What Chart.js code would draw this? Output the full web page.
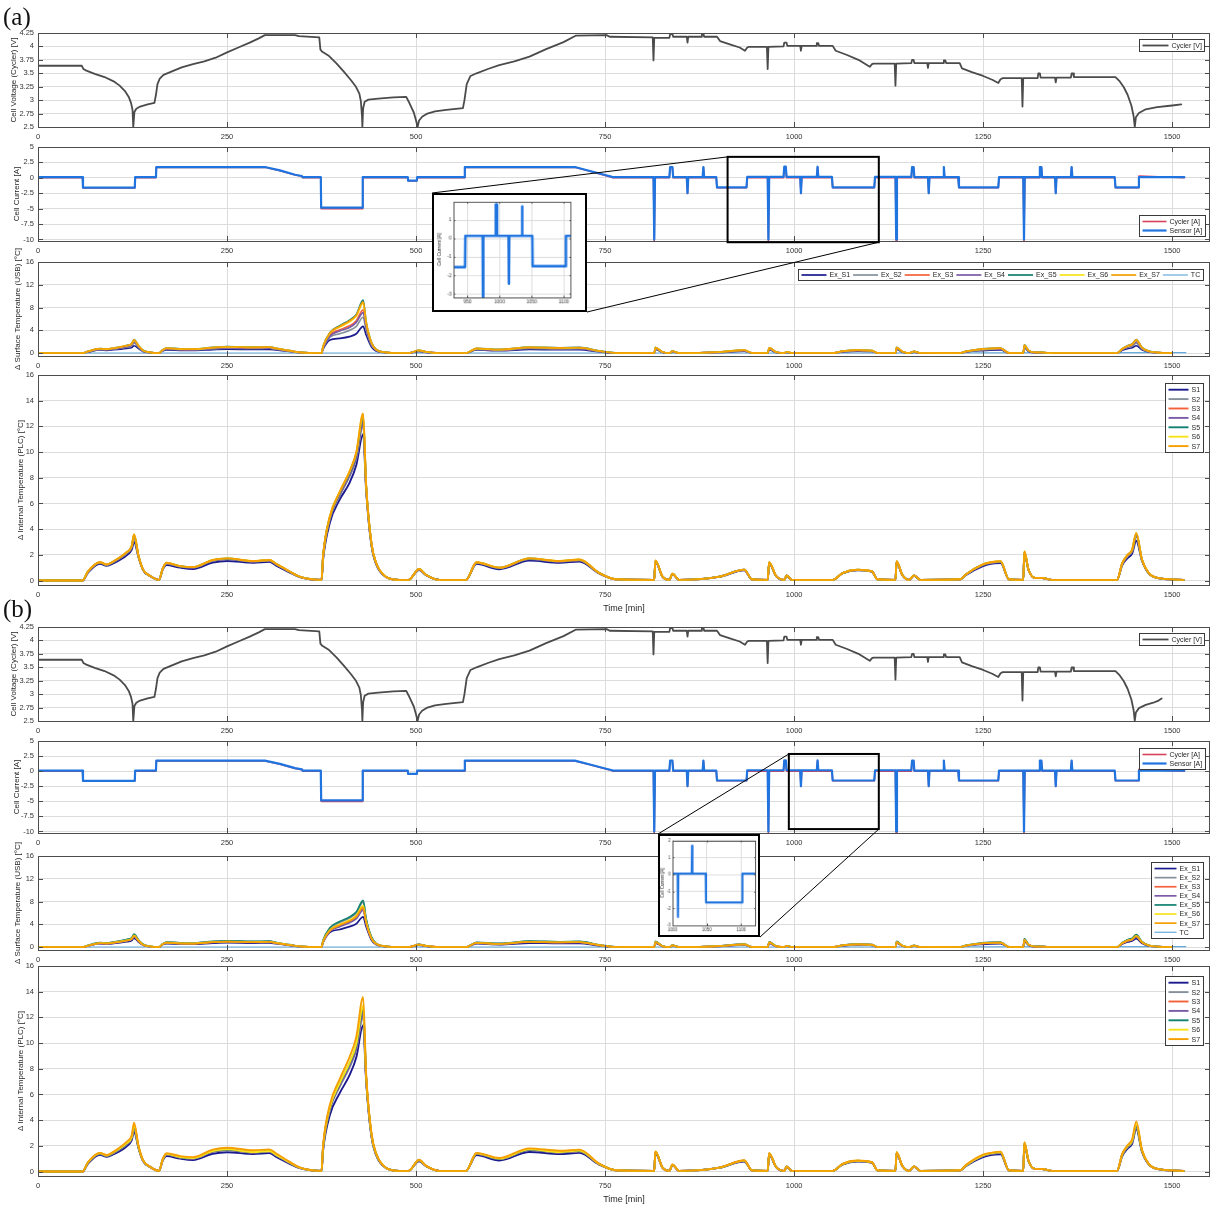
<!DOCTYPE html>
<html lang="en">
<head>
<meta charset="utf-8">
<title>Cell cycling test: voltage, current and temperatures</title>
<script src="https://cdn.jsdelivr.net/npm/chart.js@4.4.1/dist/chart.umd.min.js"></script>
<style>
  html, body { margin: 0; padding: 0; background: #fff; }
  body { position: relative; width: 1211px; height: 1210px; overflow: hidden; }
  canvas.plot { position: absolute; left: 0; }
  canvas.inset { position: absolute; border: 2px solid #000; background: #fff; z-index: 5; }
  canvas#links { position: absolute; left: 0; top: 0; z-index: 6; pointer-events: none; }
  .tag { position: absolute; left: 3px; font-family: "Liberation Serif", "Times New Roman", serif;
         font-size: 25px; line-height: 1; color: #111; z-index: 7; }
</style>
</head>
<body>
<div class="tag" style="top:4px">(a)</div>
<div class="tag" style="top:596px">(b)</div>
<canvas id="links" width="1211" height="1210"></canvas>
<script>
// ---------------------------------------------------------------- axes
const timeTicks = [0, 250, 500, 750, 1000, 1250, 1500];
const voltTicks = [2.5, 2.75, 3, 3.25, 3.5, 3.75, 4, 4.25];
const currTicks = [-10, -7.5, -5, -2.5, 0, 2.5, 5];
const surfTicks = [0, 4, 8, 12, 16];
const intTicks = [0, 2, 4, 6, 8, 10, 12, 14, 16];

// ---------------------------------------------------------------- cell voltage (cycler) [V]
const voltTime = [
  0, 58, 60, 64, 75, 88, 100, 108, 115, 120, 123, 125, 126,
  127.5, 130, 135, 145, 154, 156, 158, 161, 166, 178, 190, 205, 220, 235, 250, 265, 280, 292, 300,
  340, 345, 372, 373.5, 376, 385, 395, 405, 414, 420, 425, 427, 428.5, 429,
  430, 432, 437, 450, 470, 487, 490, 494, 497, 500, 502,
  504, 508, 515, 525, 540, 562, 564, 567, 572, 580, 595, 610, 630, 650, 672, 695, 711, 752, 756,
  813, 814, 815, 835, 836, 839, 840, 858, 859, 860, 877, 878, 880, 881,
  898, 902, 915, 928, 935, 938, 940, 964, 965, 966, 986, 987, 990, 991, 1008, 1009, 1010, 1029, 1030, 1032, 1033,
  1051, 1055, 1070, 1085, 1100, 1103, 1105, 1133, 1134, 1135, 1155, 1156, 1158, 1159, 1176, 1177, 1178, 1197, 1198, 1200, 1201,
  1219, 1222, 1235, 1250, 1262, 1270, 1273, 1276, 1301, 1302, 1303, 1322, 1323, 1325, 1326, 1345, 1346, 1347, 1366, 1367, 1369, 1370,
  1425, 1430, 1436, 1441, 1446, 1449, 1450.5
];
const voltVal = [
  3.64, 3.64, 3.58, 3.55, 3.49, 3.43, 3.35, 3.27, 3.17, 3.06, 2.95, 2.82, 2.5,
  2.78, 2.84, 2.88, 2.92, 2.95, 3.1, 3.3, 3.4, 3.47, 3.54, 3.61, 3.67, 3.72, 3.79, 3.89, 3.98, 4.07, 4.15, 4.21,
  4.21, 4.19, 4.17, 3.94, 3.9, 3.82, 3.68, 3.52, 3.37, 3.26, 3.12, 2.98, 2.7, 2.5,
  2.85, 2.97, 3.01, 3.03, 3.05, 3.06, 2.98, 2.86, 2.77, 2.62, 2.5,
  2.62, 2.69, 2.75, 2.79, 2.82, 2.85, 3.0, 3.3, 3.45, 3.5, 3.58, 3.65, 3.72, 3.81, 3.95, 4.08, 4.2, 4.21, 4.18,
  4.17, 3.74, 4.16, 4.16, 4.23, 4.23, 4.18, 4.18, 4.07, 4.18, 4.18, 4.24, 4.24, 4.18,
  4.18, 4.1, 4.04, 3.98, 3.92, 3.98, 3.99, 3.99, 3.58, 3.99, 4.0, 4.07, 4.07, 4.01, 4.01, 3.92, 4.01, 4.01, 4.06, 4.06, 4.01,
  4.01, 3.92, 3.84, 3.75, 3.62, 3.67, 3.68, 3.68, 3.27, 3.68, 3.69, 3.75, 3.75, 3.69, 3.69, 3.6, 3.69, 3.69, 3.74, 3.74, 3.69,
  3.69, 3.59, 3.52, 3.45, 3.38, 3.32, 3.39, 3.41, 3.41, 2.88, 3.41, 3.41, 3.5, 3.5, 3.42, 3.42, 3.33, 3.42, 3.42, 3.5, 3.5, 3.43,
  3.43, 3.36, 3.24, 3.1, 2.9, 2.7, 2.5
];
// recovery after the last discharge, per test
const voltTailTimeA = [1452, 1456, 1465, 1480, 1500, 1512];
const voltTailA = [2.68, 2.76, 2.83, 2.87, 2.9, 2.92];
const voltTailTimeB = [1452, 1456, 1465, 1475, 1482, 1486];
const voltTailB = [2.66, 2.74, 2.8, 2.84, 2.88, 2.92];

// ---------------------------------------------------------------- cell current [A]
const currTime = [
  0, 59, 59.5, 128, 128.5, 156, 156.5, 300, 320, 340, 349, 350,
  374, 374.5, 429, 429.5, 489, 489.5, 501, 501.5,
  564, 564.5, 710, 730, 750, 758, 760,
  814, 815, 816, 835, 836, 839, 840, 858, 859, 860, 879, 880, 881,
  897, 898, 937, 938,
  965, 966, 967, 986, 987, 989, 990, 1008, 1009, 1010, 1030, 1031, 1032,
  1050, 1051, 1106, 1107,
  1134, 1135, 1136, 1155, 1156, 1158, 1159, 1177, 1178, 1179, 1197, 1198, 1199,
  1217, 1218, 1270, 1271,
  1303, 1304, 1305, 1324, 1325, 1327, 1328, 1345, 1346, 1347, 1366, 1367, 1368,
  1424, 1425, 1455, 1456, 1516
];
const sensorCurr = [
  0.1, 0.1, -1.6, -1.6, 0.1, 0.1, 1.75, 1.75, 1.2, 0.5, 0.3, 0.1,
  0.1, -4.85, -4.85, 0.1, 0.1, -0.45, -0.45, 0.1,
  0.1, 1.75, 1.75, 1.1, 0.45, 0.2, 0.1,
  0.1, -10, 0.1, 0.1, 1.75, 1.75, 0.1, 0.1, -2.5, 0.1, 0.1, 1.75, 0.1,
  0.1, -1.55, -1.55, 0.15,
  0.15, -10, 0.15, 0.15, 1.8, 1.8, 0.15, 0.15, -2.5, 0.15, 0.15, 1.8, 0.15,
  0.15, -1.55, -1.55, 0.15,
  0.15, -10, 0.15, 0.15, 1.75, 1.75, 0.1, 0.1, -2.5, 0.1, 0.1, 1.75, 0.1,
  0.1, -1.55, -1.55, 0.1,
  0.1, -10, 0.1, 0.1, 1.75, 1.75, 0.1, 0.1, -2.5, 0.1, 0.1, 1.75, 0.1,
  0.1, -1.55, -1.55, 0.1, 0.1
];
const cyclerCurr = [
  0, 0, -1.65, -1.65, 0, 0, 1.7, 1.7, 1.15, 0.45, 0.25, 0,
  0, -5.0, -5.0, 0, 0, -0.5, -0.5, 0,
  0, 1.7, 1.7, 1.05, 0.4, 0.15, 0,
  0, -10.25, 0, 0, 1.7, 1.7, 0, 0, -2.55, 0, 0, 1.7, 0,
  0, -1.6, -1.6, 0,
  0, -10.25, 0, 0, 1.7, 1.7, 0, 0, -2.55, 0, 0, 1.7, 0,
  0, -1.6, -1.6, 0,
  0, -10.25, 0, 0, 1.7, 1.7, 0, 0, -2.55, 0, 0, 1.7, 0,
  0, -1.6, -1.6, 0,
  0, -10.25, 0, 0, 1.7, 1.7, 0, 0, -2.55, 0, 0, 1.7, 0,
  0, -1.6, -1.6, 0.3, 0
];

// zoomed current windows
const zoomTimeA = [928, 946, 946.5, 973.5, 974, 974.5, 993.5, 994, 995.5, 996, 1014, 1014.5, 1015, 1034.5, 1035, 1035.5, 1051, 1051.5, 1103, 1103.5, 1112];
const zoomCurrA = [-1.55, -1.55, 0.15, 0.15, -3.3, 0.15, 0.15, 1.85, 1.85, 0.15, 0.15, -2.45, 0.15, 0.15, 1.75, 0.15, 0.15, -1.5, -1.5, 0.15, 0.15];
const zoomTimeB = [1000, 1007.5, 1008, 1008.5, 1028, 1028.5, 1029, 1048.5, 1049, 1101.5, 1102, 1122];
const zoomCurrB = [0.05, 0.05, -2.5, 0.05, 0.05, 1.7, 0.05, 0.05, -1.65, -1.65, 0.05, 0.05];

// ---------------------------------------------------------------- temperature rise [°C]
const intTime = [
  0, 59, 66, 82, 91, 100, 117, 124, 127, 133, 139, 148, 160,
  165, 170, 188, 205, 231, 250, 285, 306, 315, 333, 346,
  375, 377, 386, 399, 412, 421, 430, 434, 441, 447, 460, 478,
  490, 504, 513, 531,
  566, 580, 610, 650, 690, 716, 742, 764,
  815, 816.5, 826, 835, 839, 848, 901, 934, 944, 965, 967, 976, 987, 990, 997,
  1051, 1064, 1084, 1103, 1110, 1134, 1135.5, 1143, 1152, 1158.5, 1167,
  1220, 1227, 1249, 1260, 1273, 1284, 1303, 1304.5, 1310, 1319, 1328, 1341,
  1427, 1434, 1441, 1447, 1452.5, 1460, 1469, 1482, 1515
];
const surfTime = [
  0, 59, 66, 82, 91, 100, 117, 124, 127, 133, 139, 148, 160,
  165, 170, 188, 205, 231, 250, 285, 306, 315, 333, 346,
  375, 377, 386, 399, 412, 421, 430, 434, 441, 447, 460, 478,
  490, 504, 513, 531,
  566, 580, 610, 650, 690, 716, 742, 764,
  815, 816.5, 826, 835, 839, 848, 901, 934, 944, 965, 967, 976, 987, 990, 997,
  1051, 1064, 1084, 1103, 1110, 1134, 1135.5, 1143, 1152, 1158.5, 1167,
  1220, 1227, 1249, 1260, 1273, 1284, 1303, 1304.5, 1310, 1319, 1328, 1341,
  1427, 1434, 1441, 1447, 1452.5, 1460, 1469, 1482, 1500
];

// internal sensors (PLC)
const intS1A = [
  0, 0, 0.6, 1.3, 1.15, 1.35, 1.95, 2.4, 3.0, 1.8, 0.8, 0.35, 0.05,
  0.85, 1.2, 1.0, 0.9, 1.4, 1.52, 1.38, 1.45, 1.15, 0.62, 0.27,
  0.05, 1.6, 4.5, 6.3, 7.6, 9.0, 11.4, 7.0, 2.7, 1.3, 0.28, 0.05,
  0.05, 0.82, 0.42, 0.05,
  0.05, 1.3, 0.88, 1.55, 1.38, 1.48, 0.55, 0.1,
  0.05, 1.45, 0.28, 0.05, 0.48, 0.05, 0.28, 0.8, 0.1, 0.05, 1.32, 0.35, 0.05, 0.37, 0.05,
  0.05, 0.55, 0.8, 0.68, 0.1, 0.05, 1.4, 0.42, 0.05, 0.37, 0.05,
  0.1, 0.42, 1.1, 1.3, 1.35, 0.1, 0.05, 2.1, 0.8, 0.19, 0.19, 0.05,
  0.05, 1.2, 1.75, 2.1, 3.1, 1.55, 0.55, 0.18, 0.05
];
const intS1B = [
  0, 0, 0.6, 1.3, 1.15, 1.35, 1.95, 2.45, 3.1, 1.8, 0.8, 0.35, 0.05,
  0.85, 1.2, 1.0, 0.9, 1.38, 1.5, 1.36, 1.43, 1.13, 0.6, 0.26,
  0.05, 1.6, 4.4, 6.1, 7.5, 8.9, 11.4, 7.0, 2.7, 1.3, 0.28, 0.05,
  0.05, 0.8, 0.41, 0.05,
  0.05, 1.28, 0.86, 1.52, 1.36, 1.45, 0.54, 0.1,
  0.05, 1.42, 0.28, 0.05, 0.48, 0.05, 0.28, 0.78, 0.1, 0.05, 1.3, 0.35, 0.05, 0.36, 0.05,
  0.05, 0.54, 0.78, 0.67, 0.1, 0.05, 1.38, 0.42, 0.05, 0.36, 0.05,
  0.1, 0.42, 1.1, 1.28, 1.33, 0.1, 0.05, 2.05, 0.79, 0.19, 0.19, 0.05,
  0.05, 1.2, 1.78, 2.15, 3.3, 1.55, 0.55, 0.18, 0.05
];
const intS2 = [
  0, 0, 0.67, 1.38, 1.21, 1.45, 2.1, 2.6, 3.4, 1.85, 0.83, 0.36, 0.05,
  0.92, 1.32, 1.08, 1.0, 1.54, 1.66, 1.47, 1.55, 1.25, 0.67, 0.29,
  0.05, 1.8, 4.8, 6.6, 8.1, 9.5, 12.1, 7.2, 2.8, 1.36, 0.29, 0.05,
  0.05, 0.87, 0.44, 0.05,
  0.05, 1.38, 0.96, 1.67, 1.48, 1.58, 0.58, 0.1,
  0.05, 1.5, 0.29, 0.05, 0.51, 0.05, 0.29, 0.83, 0.1, 0.05, 1.37, 0.36, 0.05, 0.39, 0.05,
  0.05, 0.57, 0.82, 0.7, 0.1, 0.05, 1.46, 0.44, 0.05, 0.39, 0.05,
  0.1, 0.45, 1.19, 1.37, 1.44, 0.1, 0.05, 2.18, 0.82, 0.2, 0.2, 0.05,
  0.05, 1.3, 1.9, 2.28, 3.45, 1.6, 0.57, 0.19, 0.05
];
const intS3 = [
  0, 0, 0.68, 1.4, 1.23, 1.47, 2.15, 2.64, 3.5, 1.87, 0.84, 0.36, 0.05,
  0.93, 1.35, 1.1, 1.02, 1.57, 1.69, 1.5, 1.57, 1.27, 0.68, 0.29,
  0.05, 1.85, 4.9, 6.75, 8.3, 9.7, 12.4, 7.3, 2.85, 1.38, 0.3, 0.05,
  0.05, 0.88, 0.44, 0.05,
  0.05, 1.4, 0.98, 1.69, 1.5, 1.6, 0.59, 0.1,
  0.05, 1.53, 0.3, 0.05, 0.52, 0.05, 0.3, 0.84, 0.1, 0.05, 1.4, 0.36, 0.05, 0.39, 0.05,
  0.05, 0.57, 0.83, 0.7, 0.1, 0.05, 1.48, 0.44, 0.05, 0.39, 0.05,
  0.1, 0.46, 1.21, 1.39, 1.47, 0.1, 0.05, 2.22, 0.83, 0.2, 0.2, 0.05,
  0.05, 1.33, 1.95, 2.33, 3.55, 1.61, 0.57, 0.19, 0.05
];
const intS4 = [
  0, 0, 0.68, 1.39, 1.22, 1.46, 2.12, 2.62, 3.45, 1.86, 0.84, 0.36, 0.05,
  0.93, 1.34, 1.09, 1.01, 1.56, 1.68, 1.49, 1.56, 1.26, 0.68, 0.29,
  0.05, 1.83, 4.85, 6.7, 8.2, 9.6, 12.3, 7.25, 2.83, 1.37, 0.3, 0.05,
  0.05, 0.88, 0.44, 0.05,
  0.05, 1.39, 0.97, 1.68, 1.49, 1.59, 0.59, 0.1,
  0.05, 1.52, 0.3, 0.05, 0.52, 0.05, 0.3, 0.84, 0.1, 0.05, 1.39, 0.36, 0.05, 0.39, 0.05,
  0.05, 0.57, 0.83, 0.7, 0.1, 0.05, 1.47, 0.44, 0.05, 0.39, 0.05,
  0.1, 0.46, 1.2, 1.38, 1.46, 0.1, 0.05, 2.2, 0.83, 0.2, 0.2, 0.05,
  0.05, 1.32, 1.93, 2.31, 3.5, 1.61, 0.57, 0.19, 0.05
];
const intS5 = [
  0, 0, 0.69, 1.41, 1.24, 1.49, 2.18, 2.68, 3.55, 1.89, 0.85, 0.37, 0.05,
  0.94, 1.37, 1.11, 1.04, 1.59, 1.71, 1.51, 1.59, 1.29, 0.69, 0.3,
  0.05, 1.88, 4.95, 6.85, 8.4, 9.85, 12.7, 7.35, 2.88, 1.39, 0.3, 0.05,
  0.05, 0.89, 0.45, 0.05,
  0.05, 1.41, 0.99, 1.71, 1.51, 1.62, 0.6, 0.1,
  0.05, 1.55, 0.3, 0.05, 0.53, 0.05, 0.3, 0.85, 0.1, 0.05, 1.41, 0.37, 0.05, 0.4, 0.05,
  0.05, 0.58, 0.84, 0.71, 0.1, 0.05, 1.49, 0.45, 0.05, 0.4, 0.05,
  0.1, 0.47, 1.23, 1.41, 1.49, 0.1, 0.05, 2.25, 0.84, 0.2, 0.2, 0.05,
  0.05, 1.35, 1.98, 2.37, 3.62, 1.62, 0.58, 0.19, 0.05
];
const intS6 = [
  0, 0, 0.7, 1.42, 1.25, 1.5, 2.19, 2.69, 3.58, 1.9, 0.85, 0.37, 0.05,
  0.95, 1.38, 1.12, 1.05, 1.6, 1.72, 1.52, 1.6, 1.3, 0.7, 0.3,
  0.05, 1.9, 4.98, 6.88, 8.45, 9.95, 12.9, 7.38, 2.9, 1.4, 0.3, 0.05,
  0.05, 0.9, 0.45, 0.05,
  0.05, 1.42, 1.0, 1.72, 1.52, 1.63, 0.6, 0.1,
  0.05, 1.56, 0.3, 0.05, 0.53, 0.05, 0.3, 0.85, 0.1, 0.05, 1.42, 0.37, 0.05, 0.4, 0.05,
  0.05, 0.58, 0.84, 0.71, 0.1, 0.05, 1.5, 0.45, 0.05, 0.4, 0.05,
  0.1, 0.47, 1.24, 1.42, 1.5, 0.1, 0.05, 2.27, 0.84, 0.2, 0.2, 0.05,
  0.05, 1.36, 1.99, 2.39, 3.67, 1.63, 0.58, 0.19, 0.05
];
const intS7A = [
  0, 0, 0.7, 1.42, 1.25, 1.5, 2.2, 2.7, 3.6, 1.9, 0.85, 0.37, 0.05,
  0.95, 1.38, 1.12, 1.05, 1.6, 1.72, 1.52, 1.6, 1.3, 0.7, 0.3,
  0.05, 1.9, 5.0, 6.9, 8.5, 10.0, 13.0, 7.4, 2.9, 1.4, 0.3, 0.05,
  0.05, 0.9, 0.45, 0.05,
  0.05, 1.42, 1.0, 1.72, 1.52, 1.63, 0.6, 0.1,
  0.05, 1.57, 0.3, 0.05, 0.53, 0.05, 0.3, 0.85, 0.1, 0.05, 1.42, 0.37, 0.05, 0.4, 0.05,
  0.05, 0.58, 0.84, 0.71, 0.1, 0.05, 1.5, 0.45, 0.05, 0.4, 0.05,
  0.1, 0.47, 1.24, 1.42, 1.5, 0.1, 0.05, 2.28, 0.84, 0.2, 0.2, 0.05,
  0.05, 1.37, 2.0, 2.4, 3.7, 1.63, 0.58, 0.19, 0.05
];
const intS7B = [
  0, 0, 0.72, 1.45, 1.28, 1.55, 2.3, 2.85, 3.8, 2.0, 0.88, 0.38, 0.05,
  0.98, 1.42, 1.2, 1.12, 1.7, 1.85, 1.65, 1.72, 1.4, 0.75, 0.32,
  0.05, 2.0, 5.2, 7.2, 8.9, 10.5, 13.6, 7.6, 3.0, 1.45, 0.3, 0.05,
  0.05, 0.92, 0.46, 0.05,
  0.05, 1.45, 1.05, 1.8, 1.62, 1.7, 0.62, 0.1,
  0.05, 1.57, 0.3, 0.05, 0.55, 0.05, 0.3, 0.88, 0.1, 0.05, 1.42, 0.37, 0.05, 0.4, 0.05,
  0.05, 0.6, 0.86, 0.72, 0.1, 0.05, 1.5, 0.45, 0.05, 0.4, 0.05,
  0.1, 0.5, 1.3, 1.45, 1.55, 0.1, 0.05, 2.28, 0.84, 0.2, 0.2, 0.05,
  0.05, 1.4, 2.05, 2.5, 3.9, 1.7, 0.6, 0.19, 0.05
];

// external surface sensors (USB), test (a)
const surfS1A = [
  0, 0, 0.2, 0.55, 0.5, 0.6, 0.85, 1.0, 1.3, 0.8, 0.3, 0.1, 0.0,
  0.4, 0.55, 0.5, 0.48, 0.62, 0.7, 0.65, 0.68, 0.55, 0.3, 0.1,
  0.0, 0.7, 2.3, 2.6, 2.9, 3.4, 4.7, 3.2, 1.1, 0.4, 0.1, 0.0,
  0.0, 0.3, 0.15, 0.0,
  0.0, 0.55, 0.42, 0.65, 0.6, 0.62, 0.25, 0.02,
  0.0, 0.65, 0.12, 0.0, 0.22, 0.0, 0.12, 0.35, 0.03, 0.0, 0.6, 0.12, 0.0, 0.15, 0.0,
  0.0, 0.22, 0.35, 0.3, 0.03, 0.0, 0.65, 0.18, 0.0, 0.18, 0.0,
  0.02, 0.2, 0.45, 0.52, 0.55, 0.02, 0.0, 0.95, 0.3, 0.07, 0.07, 0.0,
  0.0, 0.5, 0.8, 0.95, 1.3, 0.6, 0.2, 0.06, 0.0
];
const surfS2A = [
  0, 0, 0.24, 0.65, 0.6, 0.72, 1.05, 1.3, 1.8, 1.0, 0.38, 0.12, 0.01,
  0.48, 0.7, 0.6, 0.58, 0.78, 0.88, 0.82, 0.86, 0.68, 0.36, 0.12,
  0.01, 0.9, 2.8, 3.4, 4.0, 4.7, 6.3, 4.1, 1.4, 0.52, 0.12, 0.01,
  0.01, 0.38, 0.19, 0.01,
  0.01, 0.68, 0.52, 0.82, 0.75, 0.78, 0.31, 0.03,
  0.01, 0.8, 0.15, 0.01, 0.27, 0.01, 0.15, 0.43, 0.04, 0.01, 0.75, 0.15, 0.01, 0.19, 0.01,
  0.01, 0.27, 0.43, 0.36, 0.04, 0.01, 0.8, 0.23, 0.01, 0.23, 0.01,
  0.03, 0.24, 0.58, 0.66, 0.7, 0.03, 0.01, 1.15, 0.38, 0.09, 0.09, 0.01,
  0.01, 0.62, 1.0, 1.22, 1.75, 0.78, 0.27, 0.08, 0.01
];
const surfS3A = [
  0, 0, 0.27, 0.72, 0.67, 0.8, 1.2, 1.5, 2.1, 1.15, 0.44, 0.13, 0.02,
  0.53, 0.8, 0.67, 0.64, 0.88, 1.0, 0.93, 0.97, 0.76, 0.4, 0.13,
  0.02, 1.05, 3.2, 4.1, 4.8, 5.7, 7.6, 4.8, 1.65, 0.6, 0.13, 0.02,
  0.02, 0.44, 0.22, 0.02,
  0.02, 0.76, 0.58, 0.93, 0.85, 0.88, 0.35, 0.04,
  0.02, 0.9, 0.18, 0.02, 0.31, 0.02, 0.18, 0.49, 0.04, 0.02, 0.85, 0.18, 0.02, 0.22, 0.02,
  0.02, 0.31, 0.49, 0.4, 0.04, 0.02, 0.9, 0.27, 0.02, 0.27, 0.02,
  0.04, 0.27, 0.66, 0.76, 0.8, 0.04, 0.02, 1.3, 0.44, 0.1, 0.1, 0.02,
  0.02, 0.7, 1.15, 1.42, 2.1, 0.88, 0.31, 0.09, 0.02
];
const surfS4A = [
  0, 0, 0.26, 0.7, 0.65, 0.77, 1.15, 1.45, 2.0, 1.1, 0.42, 0.13, 0.02,
  0.51, 0.77, 0.64, 0.62, 0.85, 0.96, 0.9, 0.94, 0.73, 0.39, 0.13,
  0.02, 1.0, 3.0, 3.9, 4.5, 5.4, 7.1, 4.6, 1.6, 0.58, 0.13, 0.02,
  0.02, 0.42, 0.21, 0.02,
  0.02, 0.73, 0.56, 0.9, 0.82, 0.85, 0.34, 0.04,
  0.02, 0.87, 0.17, 0.02, 0.3, 0.02, 0.17, 0.47, 0.04, 0.02, 0.82, 0.17, 0.02, 0.21, 0.02,
  0.02, 0.3, 0.47, 0.39, 0.04, 0.02, 0.87, 0.26, 0.02, 0.26, 0.02,
  0.04, 0.26, 0.64, 0.73, 0.77, 0.04, 0.02, 1.25, 0.42, 0.1, 0.1, 0.02,
  0.02, 0.68, 1.1, 1.36, 2.0, 0.85, 0.3, 0.09, 0.02
];
const surfS5A = [
  0, 0, 0.3, 0.8, 0.75, 0.9, 1.35, 1.7, 2.4, 1.3, 0.5, 0.15, 0.02,
  0.6, 0.9, 0.75, 0.72, 1.0, 1.15, 1.05, 1.1, 0.85, 0.45, 0.15,
  0.02, 1.2, 3.6, 4.8, 5.8, 6.8, 9.3, 5.5, 1.9, 0.7, 0.15, 0.02,
  0.02, 0.5, 0.25, 0.02,
  0.02, 0.85, 0.65, 1.05, 0.95, 1.0, 0.4, 0.05,
  0.02, 1.0, 0.2, 0.02, 0.35, 0.02, 0.2, 0.55, 0.05, 0.02, 0.95, 0.2, 0.02, 0.25, 0.02,
  0.02, 0.35, 0.55, 0.45, 0.05, 0.02, 1.0, 0.3, 0.02, 0.3, 0.02,
  0.05, 0.3, 0.75, 0.85, 0.9, 0.05, 0.02, 1.45, 0.5, 0.12, 0.12, 0.02,
  0.02, 0.8, 1.3, 1.6, 2.4, 1.0, 0.35, 0.1, 0.02
];
const surfS6A = [
  0, 0, 0.29, 0.77, 0.72, 0.86, 1.3, 1.62, 2.3, 1.25, 0.48, 0.14, 0.02,
  0.57, 0.86, 0.72, 0.69, 0.96, 1.1, 1.0, 1.05, 0.81, 0.43, 0.14,
  0.02, 1.15, 3.5, 4.6, 5.5, 6.5, 8.8, 5.3, 1.82, 0.67, 0.14, 0.02,
  0.02, 0.48, 0.24, 0.02,
  0.02, 0.81, 0.62, 1.0, 0.91, 0.95, 0.38, 0.05,
  0.02, 0.96, 0.19, 0.02, 0.33, 0.02, 0.19, 0.52, 0.05, 0.02, 0.91, 0.19, 0.02, 0.24, 0.02,
  0.02, 0.33, 0.52, 0.43, 0.05, 0.02, 0.96, 0.29, 0.02, 0.29, 0.02,
  0.05, 0.29, 0.72, 0.81, 0.86, 0.05, 0.02, 1.38, 0.48, 0.11, 0.11, 0.02,
  0.02, 0.76, 1.24, 1.52, 2.3, 0.95, 0.33, 0.1, 0.02
];
const surfS7A = [
  0, 0, 0.3, 0.78, 0.73, 0.88, 1.32, 1.66, 2.35, 1.28, 0.49, 0.15, 0.02,
  0.58, 0.88, 0.73, 0.7, 0.98, 1.12, 1.02, 1.07, 0.83, 0.44, 0.15,
  0.02, 1.18, 3.55, 4.7, 5.65, 6.65, 9.0, 5.4, 1.86, 0.68, 0.15, 0.02,
  0.02, 0.49, 0.25, 0.02,
  0.02, 0.83, 0.63, 1.02, 0.93, 0.97, 0.39, 0.05,
  0.02, 0.98, 0.2, 0.02, 0.34, 0.02, 0.2, 0.54, 0.05, 0.02, 0.93, 0.2, 0.02, 0.25, 0.02,
  0.02, 0.34, 0.54, 0.44, 0.05, 0.02, 0.98, 0.3, 0.02, 0.3, 0.02,
  0.05, 0.3, 0.74, 0.83, 0.88, 0.05, 0.02, 1.42, 0.49, 0.12, 0.12, 0.02,
  0.02, 0.78, 1.27, 1.56, 2.35, 0.98, 0.34, 0.1, 0.02
];

// external surface sensors (USB), test (b)
const surfS1B = [
  0, 0, 0.22, 0.6, 0.55, 0.65, 0.95, 1.15, 1.6, 0.9, 0.33, 0.1, 0.0,
  0.45, 0.62, 0.55, 0.52, 0.7, 0.78, 0.72, 0.75, 0.6, 0.32, 0.1,
  0.0, 0.8, 2.6, 3.1, 3.6, 4.1, 5.3, 3.6, 1.25, 0.45, 0.1, 0.0,
  0.0, 0.33, 0.17, 0.0,
  0.0, 0.6, 0.46, 0.72, 0.66, 0.68, 0.27, 0.02,
  0.0, 0.7, 0.13, 0.0, 0.24, 0.0, 0.13, 0.38, 0.03, 0.0, 0.66, 0.13, 0.0, 0.17, 0.0,
  0.0, 0.24, 0.38, 0.32, 0.03, 0.0, 0.7, 0.2, 0.0, 0.2, 0.0,
  0.02, 0.22, 0.5, 0.58, 0.62, 0.02, 0.0, 1.0, 0.33, 0.08, 0.08, 0.0,
  0.0, 0.55, 0.9, 1.08, 1.5, 0.68, 0.22, 0.07, 0.0
];
const surfS2B = [
  0, 0, 0.28, 0.76, 0.72, 0.86, 1.28, 1.57, 2.2, 1.2, 0.47, 0.14, 0.02,
  0.57, 0.86, 0.72, 0.69, 0.95, 1.05, 0.96, 1.0, 0.79, 0.41, 0.14,
  0.02, 1.12, 3.2, 4.3, 5.1, 5.95, 7.9, 4.8, 1.72, 0.65, 0.14, 0.02,
  0.02, 0.48, 0.24, 0.02,
  0.02, 0.81, 0.62, 1.0, 0.91, 0.96, 0.38, 0.05,
  0.02, 0.95, 0.19, 0.02, 0.33, 0.02, 0.19, 0.52, 0.05, 0.02, 0.9, 0.19, 0.02, 0.24, 0.02,
  0.02, 0.33, 0.52, 0.43, 0.05, 0.02, 0.95, 0.29, 0.02, 0.29, 0.02,
  0.05, 0.29, 0.71, 0.81, 0.86, 0.05, 0.02, 1.38, 0.48, 0.11, 0.11, 0.02,
  0.02, 0.76, 1.24, 1.48, 2.1, 0.93, 0.32, 0.1, 0.02
];
const surfS3B = [
  0, 0, 0.25, 0.69, 0.65, 0.77, 1.14, 1.4, 1.95, 1.07, 0.42, 0.12, 0.02,
  0.52, 0.77, 0.65, 0.62, 0.86, 0.95, 0.86, 0.9, 0.7, 0.37, 0.12,
  0.02, 0.97, 2.85, 3.75, 4.45, 5.2, 6.8, 4.25, 1.5, 0.57, 0.12, 0.02,
  0.02, 0.43, 0.21, 0.02,
  0.02, 0.73, 0.56, 0.9, 0.82, 0.86, 0.34, 0.04,
  0.02, 0.86, 0.17, 0.02, 0.3, 0.02, 0.17, 0.47, 0.04, 0.02, 0.82, 0.17, 0.02, 0.21, 0.02,
  0.02, 0.3, 0.47, 0.39, 0.04, 0.02, 0.86, 0.26, 0.02, 0.26, 0.02,
  0.04, 0.26, 0.64, 0.73, 0.77, 0.04, 0.02, 1.24, 0.43, 0.1, 0.1, 0.02,
  0.02, 0.68, 1.1, 1.32, 1.88, 0.84, 0.29, 0.09, 0.02
];
const surfS4B = [
  0, 0, 0.24, 0.67, 0.63, 0.75, 1.1, 1.36, 1.88, 1.04, 0.41, 0.12, 0.02,
  0.5, 0.75, 0.63, 0.6, 0.83, 0.92, 0.83, 0.87, 0.68, 0.36, 0.12,
  0.02, 0.94, 2.75, 3.6, 4.3, 5.0, 6.5, 4.1, 1.45, 0.55, 0.12, 0.02,
  0.02, 0.42, 0.21, 0.02,
  0.02, 0.71, 0.54, 0.87, 0.8, 0.84, 0.33, 0.04,
  0.02, 0.84, 0.16, 0.02, 0.29, 0.02, 0.16, 0.46, 0.04, 0.02, 0.8, 0.16, 0.02, 0.21, 0.02,
  0.02, 0.29, 0.46, 0.38, 0.04, 0.02, 0.84, 0.25, 0.02, 0.25, 0.02,
  0.04, 0.25, 0.62, 0.71, 0.75, 0.04, 0.02, 1.2, 0.42, 0.1, 0.1, 0.02,
  0.02, 0.66, 1.07, 1.28, 1.82, 0.82, 0.28, 0.09, 0.02
];
const surfS5B = [
  0, 0, 0.3, 0.8, 0.75, 0.9, 1.35, 1.65, 2.3, 1.25, 0.5, 0.15, 0.02,
  0.6, 0.9, 0.75, 0.72, 1.0, 1.1, 1.0, 1.05, 0.82, 0.43, 0.15,
  0.02, 1.2, 3.4, 4.5, 5.3, 6.2, 8.2, 5.0, 1.8, 0.68, 0.15, 0.02,
  0.02, 0.5, 0.25, 0.02,
  0.02, 0.85, 0.65, 1.05, 0.95, 1.0, 0.4, 0.05,
  0.02, 1.0, 0.2, 0.02, 0.35, 0.02, 0.2, 0.55, 0.05, 0.02, 0.95, 0.2, 0.02, 0.25, 0.02,
  0.02, 0.35, 0.55, 0.45, 0.05, 0.02, 1.0, 0.3, 0.02, 0.3, 0.02,
  0.05, 0.3, 0.75, 0.85, 0.9, 0.05, 0.02, 1.45, 0.5, 0.12, 0.12, 0.02,
  0.02, 0.8, 1.3, 1.55, 2.2, 0.98, 0.34, 0.1, 0.02
];
const surfS6B = [
  0, 0, 0.26, 0.72, 0.68, 0.81, 1.2, 1.48, 2.05, 1.13, 0.44, 0.13, 0.02,
  0.54, 0.81, 0.68, 0.65, 0.9, 0.99, 0.9, 0.95, 0.74, 0.39, 0.13,
  0.02, 1.05, 3.0, 4.0, 4.75, 5.55, 7.3, 4.5, 1.6, 0.61, 0.13, 0.02,
  0.02, 0.45, 0.23, 0.02,
  0.02, 0.77, 0.59, 0.95, 0.86, 0.9, 0.36, 0.05,
  0.02, 0.9, 0.18, 0.02, 0.32, 0.02, 0.18, 0.5, 0.05, 0.02, 0.86, 0.18, 0.02, 0.23, 0.02,
  0.02, 0.32, 0.5, 0.41, 0.05, 0.02, 0.9, 0.27, 0.02, 0.27, 0.02,
  0.05, 0.27, 0.68, 0.77, 0.81, 0.05, 0.02, 1.3, 0.45, 0.11, 0.11, 0.02,
  0.02, 0.72, 1.17, 1.4, 1.98, 0.88, 0.31, 0.09, 0.02
];
const surfS7B = [
  0, 0, 0.25, 0.7, 0.66, 0.79, 1.17, 1.44, 2.0, 1.1, 0.43, 0.13, 0.02,
  0.53, 0.79, 0.66, 0.63, 0.88, 0.97, 0.88, 0.92, 0.72, 0.38, 0.13,
  0.02, 1.0, 2.9, 3.85, 4.6, 5.35, 7.0, 4.35, 1.55, 0.59, 0.13, 0.02,
  0.02, 0.44, 0.22, 0.02,
  0.02, 0.75, 0.57, 0.92, 0.84, 0.88, 0.35, 0.04,
  0.02, 0.88, 0.17, 0.02, 0.31, 0.02, 0.17, 0.48, 0.04, 0.02, 0.84, 0.17, 0.02, 0.22, 0.02,
  0.02, 0.31, 0.48, 0.4, 0.04, 0.02, 0.88, 0.26, 0.02, 0.26, 0.02,
  0.04, 0.26, 0.66, 0.75, 0.79, 0.04, 0.02, 1.27, 0.44, 0.1, 0.1, 0.02,
  0.02, 0.7, 1.14, 1.36, 1.93, 0.86, 0.3, 0.09, 0.02
];

// reference thermocouple
const tcTime = [0, 500, 1000, 1500, 1518];
const tcVal = [0.03, 0.03, 0.03, 0.08, 0.1];

// ---------------------------------------------------------------- styling
const FONT = '"Liberation Sans", Arial, Helvetica, sans-serif';
Chart.defaults.font.family = FONT;
const INK = '#262626', TICK_INK = '#333333', GRID = '#dcdcdc', FRAME = '#4d4d4d';
const SENSOR_COLORS = ['#1b1b8f', '#85909b', '#f4603c', '#7b5aa6', '#128072', '#f7e31b', '#f5a000'];
const TC_COLOR = '#63a9dc';
const VOLT_COLOR = '#4b4b4b', SENSOR_CURR = '#1f74e0', CYCLER_CURR = '#d6435b';

const pts = (xs, ys) => xs.map((x, i) => ({ x, y: ys[i] }));
const fmt = v => String(Math.round(v * 100) / 100);
const fixTicks = list => s => { s.ticks = list.map(v => ({ value: v })); };

function series(label, xs, ys, color, width, order, smooth) {
  return {
    label, data: pts(xs, ys), borderColor: color, backgroundColor: color,
    borderWidth: width, order, pointRadius: 0, fill: false, tension: 0,
    cubicInterpolationMode: smooth ? 'monotone' : 'default',
    borderJoinStyle: 'round', borderCapStyle: 'round'
  };
}

// boxed axes with inward tick marks on all four sides
const matlabBox = {
  id: 'matlabBox',
  afterDatasetsDraw(chart, args, o) {
    const { ctx, chartArea: a, scales } = chart;
    const len = o.tick || 5;
    ctx.save();
    ctx.strokeStyle = FRAME;
    ctx.lineWidth = 1;
    ctx.beginPath();
    for (const t of scales.x.ticks) {
      const px = Math.round(scales.x.getPixelForValue(t.value)) + 0.5;
      ctx.moveTo(px, a.top); ctx.lineTo(px, a.top + len);
      ctx.moveTo(px, a.bottom); ctx.lineTo(px, a.bottom - len);
    }
    for (const t of scales.y.ticks) {
      const py = Math.round(scales.y.getPixelForValue(t.value)) + 0.5;
      ctx.moveTo(a.left, py); ctx.lineTo(a.left + len, py);
      ctx.moveTo(a.right, py); ctx.lineTo(a.right - len, py);
    }
    ctx.stroke();
    ctx.strokeRect(Math.round(a.left) + 0.5, Math.round(a.top) + 0.5,
                   Math.round(a.width) - 1, Math.round(a.height));
    ctx.restore();
  }
};

// boxed legend drawn inside the plot area
const matlabLegend = {
  id: 'matlabLegend',
  afterDraw(chart, args, o) {
    if (!o || !o.rowH) return;
    const { ctx, chartArea: a } = chart;
    const items = chart.data.datasets;
    ctx.save();
    ctx.font = `${o.size}px ${FONT}`;
    const L = o.lineLen, g = 3, p = 3;
    const tw = items.map(d => ctx.measureText(d.label).width);
    let w, h;
    if (o.horizontal) {
      w = p + tw.reduce((s, v) => s + L + g + v + o.itemGap, 0) - o.itemGap + p;
      h = o.rowH + 2;
    } else {
      w = p + L + g + Math.max(...tw) + p;
      h = items.length * o.rowH + 3;
    }
    w = Math.round(w); h = Math.round(h);
    const x = Math.round(a.right - o.right - w) + 0.5;
    const y = Math.round(o.fromBottom != null ? a.bottom - o.fromBottom - h : a.top + o.fromTop) + 0.5;
    ctx.fillStyle = '#fff';
    ctx.fillRect(x, y, w, h);
    ctx.strokeStyle = '#3a3a3a'; ctx.lineWidth = 1;
    ctx.strokeRect(x, y, w, h);
    ctx.textBaseline = 'middle'; ctx.textAlign = 'left';
    let cx = x + p;
    items.forEach((d, i) => {
      const cy = o.horizontal ? y + h / 2 : y + 1.5 + o.rowH * (i + 0.5);
      if (!o.horizontal) cx = x + p;
      ctx.strokeStyle = d.borderColor;
      ctx.lineWidth = Math.max(1, d.borderWidth);
      ctx.beginPath(); ctx.moveTo(cx, cy); ctx.lineTo(cx + L, cy); ctx.stroke();
      ctx.fillStyle = INK;
      ctx.fillText(d.label, cx + L + g, cy + 0.5);
      if (o.horizontal) cx += L + g + tw[i] + o.itemGap;
    });
    ctx.restore();
  }
};
Chart.register(matlabBox, matlabLegend);

// ---------------------------------------------------------------- panel builder
const PAD_T = 20, PAD_B = 4, Y_AXIS_W = 38, X_MIN = 0, X_MAX = 1550;

function plot(spec) {
  const cv = document.createElement('canvas');
  cv.className = 'plot';
  const xh = spec.timeTitle ? 30 : 18;
  cv.width = 1211;
  cv.height = PAD_T + (spec.bottom - spec.top) + xh + PAD_B;
  cv.style.top = (spec.top - PAD_T) + 'px';
  document.body.appendChild(cv);
  return new Chart(cv, {
    type: 'line',
    data: { datasets: spec.datasets },
    options: {
      responsive: false, animation: false, devicePixelRatio: 1, parsing: false, events: [],
      layout: { padding: { top: PAD_T, right: 1, bottom: PAD_B, left: 0 } },
      plugins: {
        legend: { display: false }, tooltip: { enabled: false },
        matlabBox: { tick: 5 }, matlabLegend: spec.legend
      },
      scales: {
        x: {
          type: 'linear', min: X_MIN, max: X_MAX,
          afterBuildTicks: fixTicks(timeTicks),
          afterFit: s => { s.height = xh; },
          grid: { color: GRID, drawTicks: false },
          border: { display: false },
          ticks: { padding: 5, color: TICK_INK, font: { size: 7.5 }, maxRotation: 0, autoSkip: false, callback: v => String(v) },
          title: {
            display: !!spec.timeTitle, text: 'Time [min]', color: INK,
            font: { size: 9 }, padding: { top: 0, bottom: 1 }
          }
        },
        y: {
          type: 'linear', min: spec.yMin, max: spec.yMax,
          afterBuildTicks: fixTicks(spec.yTicks),
          afterFit: s => { s.width = Y_AXIS_W; },
          grid: { color: GRID, drawTicks: false },
          border: { display: false },
          ticks: { padding: 4, color: TICK_INK, font: { size: 7.5 }, callback: fmt, autoSkip: false },
          title: {
            display: true, text: spec.yTitle, color: INK, font: { size: 8 },
            padding: { top: spec.titlePad, bottom: 0 }
          }
        }
      }
    }
  });
}

function zoomInset(spec) {
  const cv = document.createElement('canvas');
  cv.className = 'inset';
  cv.width = spec.w; cv.height = spec.h;
  cv.style.left = spec.left + 'px'; cv.style.top = spec.top + 'px';
  document.body.appendChild(cv);
  return new Chart(cv, {
    type: 'line',
    data: { datasets: spec.datasets },
    options: {
      responsive: false, animation: false, devicePixelRatio: 1, parsing: false, events: [],
      layout: { padding: { top: spec.padTop, right: spec.padRight, bottom: 0, left: 0 } },
      plugins: { legend: { display: false }, tooltip: { enabled: false }, matlabBox: { tick: 2 }, matlabLegend: false },
      scales: {
        x: {
          type: 'linear', min: spec.xMin, max: spec.xMax,
          afterBuildTicks: fixTicks(spec.xTicks),
          afterFit: s => { s.height = spec.xh; },
          grid: { color: GRID, drawTicks: false },
          border: { display: false },
          ticks: { padding: 2, color: TICK_INK, font: { size: spec.font }, maxRotation: 0, autoSkip: false, callback: v => String(v) }
        },
        y: {
          type: 'linear', min: spec.yMin, max: spec.yMax,
          afterBuildTicks: fixTicks(spec.yTicks),
          afterFit: s => { s.width = spec.yw; },
          grid: { color: GRID, drawTicks: false },
          border: { display: false },
          ticks: { padding: 2, color: TICK_INK, font: { size: spec.font }, callback: fmt, autoSkip: false },
          title: {
            display: true, text: 'Cell Current [A]', color: INK, font: { size: spec.font },
            padding: { top: spec.titlePad, bottom: 0 }
          }
        }
      }
    }
  });
}

// ---------------------------------------------------------------- datasets
const voltSet = (tailT, tailV) => [
  series('Cycler [V]', voltTime.concat(tailT), voltVal.concat(tailV), VOLT_COLOR, 1.8, 0, false)
];
const currSet = () => [
  series('Cycler [A]', currTime, cyclerCurr, CYCLER_CURR, 1.6, 1, false),
  series('Sensor [A]', currTime, sensorCurr, SENSOR_CURR, 2.2, 0, false)
];
const surfSet = arrs => {
  const list = arrs.map((ys, i) => series('Ex_S' + (i + 1), surfTime, ys, SENSOR_COLORS[i], 1.7, 7 - i, true));
  list.push(series('TC', tcTime, tcVal, TC_COLOR, 1.2, 10, false));
  return list;
};
const intSet = arrs => arrs.map((ys, i) => series('S' + (i + 1), intTime, ys, SENSOR_COLORS[i], 1.9, 7 - i, true));

const legendSmall = { size: 7, rowH: 9.4 };

// ---------------------------------------------------------------- test (a)
const voltA = plot({
  top: 33, bottom: 127, yMin: 2.5, yMax: 4.25, yTicks: voltTicks,
  yTitle: 'Cell Voltage (Cycler) [V]', titlePad: 9,
  datasets: voltSet(voltTailTimeA, voltTailA),
  legend: { ...legendSmall, rowH: 9, lineLen: 26, fromTop: 6, right: 6 }
});
const currA = plot({
  top: 147, bottom: 241, yMin: -10.25, yMax: 5, yTicks: currTicks,
  yTitle: 'Cell Current [A]', titlePad: 12,
  datasets: currSet(),
  legend: { ...legendSmall, rowH: 9, lineLen: 24, fromBottom: 5, right: 5 }
});
const surfA = plot({
  top: 262, bottom: 356, yMin: -0.5, yMax: 16, yTicks: surfTicks,
  yTitle: '\u0394 Surface Temperature (USB) [\u00B0C]', titlePad: 13,
  datasets: surfSet([surfS1A, surfS2A, surfS3A, surfS4A, surfS5A, surfS6A, surfS7A]),
  legend: { ...legendSmall, horizontal: true, rowH: 9, lineLen: 25, itemGap: 3, fromTop: 7, right: 7 }
});
const intA = plot({
  top: 375, bottom: 585, yMin: -0.35, yMax: 16, yTicks: intTicks,
  yTitle: '\u0394 Internal Temperature (PLC) [\u00B0C]', titlePad: 16, timeTitle: true,
  datasets: intSet([intS1A, intS2, intS3, intS4, intS5, intS6, intS7A]),
  legend: { ...legendSmall, lineLen: 20, fromTop: 8, right: 7 }
});

// ---------------------------------------------------------------- test (b)
const voltB = plot({
  top: 627, bottom: 721, yMin: 2.5, yMax: 4.25, yTicks: voltTicks,
  yTitle: 'Cell Voltage (Cycler) [V]', titlePad: 9,
  datasets: voltSet(voltTailTimeB, voltTailB),
  legend: { ...legendSmall, rowH: 9, lineLen: 26, fromTop: 6, right: 6 }
});
const currB = plot({
  top: 741, bottom: 833, yMin: -10.25, yMax: 5, yTicks: currTicks,
  yTitle: 'Cell Current [A]', titlePad: 12,
  datasets: currSet(),
  legend: { ...legendSmall, rowH: 9, lineLen: 24, fromTop: 7, right: 5 }
});
const surfB = plot({
  top: 856, bottom: 950, yMin: -0.5, yMax: 16, yTicks: surfTicks,
  yTitle: '\u0394 Surface Temperature (USB) [\u00B0C]', titlePad: 13,
  datasets: surfSet([surfS1B, surfS2B, surfS3B, surfS4B, surfS5B, surfS6B, surfS7B]),
  legend: { ...legendSmall, rowH: 9.1, lineLen: 22, fromTop: 6, right: 7 }
});
const intB = plot({
  top: 966, bottom: 1176, yMin: -0.35, yMax: 16, yTicks: intTicks,
  yTitle: '\u0394 Internal Temperature (PLC) [\u00B0C]', titlePad: 16, timeTitle: true,
  datasets: intSet([intS1B, intS2, intS3, intS4, intS5, intS6, intS7B]),
  legend: { ...legendSmall, lineLen: 20, fromTop: 10, right: 7 }
});

// ---------------------------------------------------------------- zoomed current insets
const insetA = zoomInset({
  left: 432, top: 193, w: 155, h: 119, padTop: 7, padRight: 14, xh: 13, yw: 20, font: 5, titlePad: 3,
  xMin: 928, xMax: 1112, xTicks: [950, 1000, 1050, 1100],
  yMin: -3.2, yMax: 2, yTicks: [-3, -2, -1, 0, 1],
  datasets: [series('Sensor [A]', zoomTimeA, zoomCurrA, SENSOR_CURR, 2.6, 0, false)]
});
const insetB = zoomInset({
  left: 658, top: 834, w: 102, h: 103, padTop: 4, padRight: 2, xh: 10, yw: 13, font: 4.5, titlePad: 0.5,
  xMin: 1000, xMax: 1122, xTicks: [1000, 1050, 1100],
  yMin: -3, yMax: 2, yTicks: [-3, -2, -1, 0, 1, 2],
  datasets: [series('Sensor [A]', zoomTimeB, zoomCurrB, SENSOR_CURR, 2.2, 0, false)]
});

// ---------------------------------------------------------------- zoom frames and connectors
const zoomWinA = { from: 912, to: 1112, hi: 3.4, lo: -10.45 };
const zoomWinB = { from: 993, to: 1112, hi: 2.85, lo: -9.6 };

function linkZoom(ctx, chart, insetChart, win) {
  const cv = chart.canvas, sx = chart.scales.x, sy = chart.scales.y;
  const x0 = cv.offsetLeft + sx.getPixelForValue(win.from);
  const x1 = cv.offsetLeft + sx.getPixelForValue(win.to);
  const y0 = cv.offsetTop + sy.getPixelForValue(win.hi);
  const y1 = cv.offsetTop + sy.getPixelForValue(win.lo);
  const ic = insetChart.canvas;
  const L = ic.offsetLeft, T = ic.offsetTop, R = L + ic.offsetWidth, B = T + ic.offsetHeight;
  ctx.strokeStyle = '#000';
  ctx.lineWidth = 1;
  ctx.beginPath();
  ctx.moveTo(x0, y0); ctx.lineTo(L, T);
  ctx.moveTo(x1, y1); ctx.lineTo(R, B);
  ctx.stroke();
  ctx.lineWidth = 2;
  ctx.strokeRect(x0, y0, x1 - x0, y1 - y0);
}
const linkCtx = document.getElementById('links').getContext('2d');
linkZoom(linkCtx, currA, insetA, zoomWinA);
linkZoom(linkCtx, currB, insetB, zoomWinB);
</script>
</body>
</html>
